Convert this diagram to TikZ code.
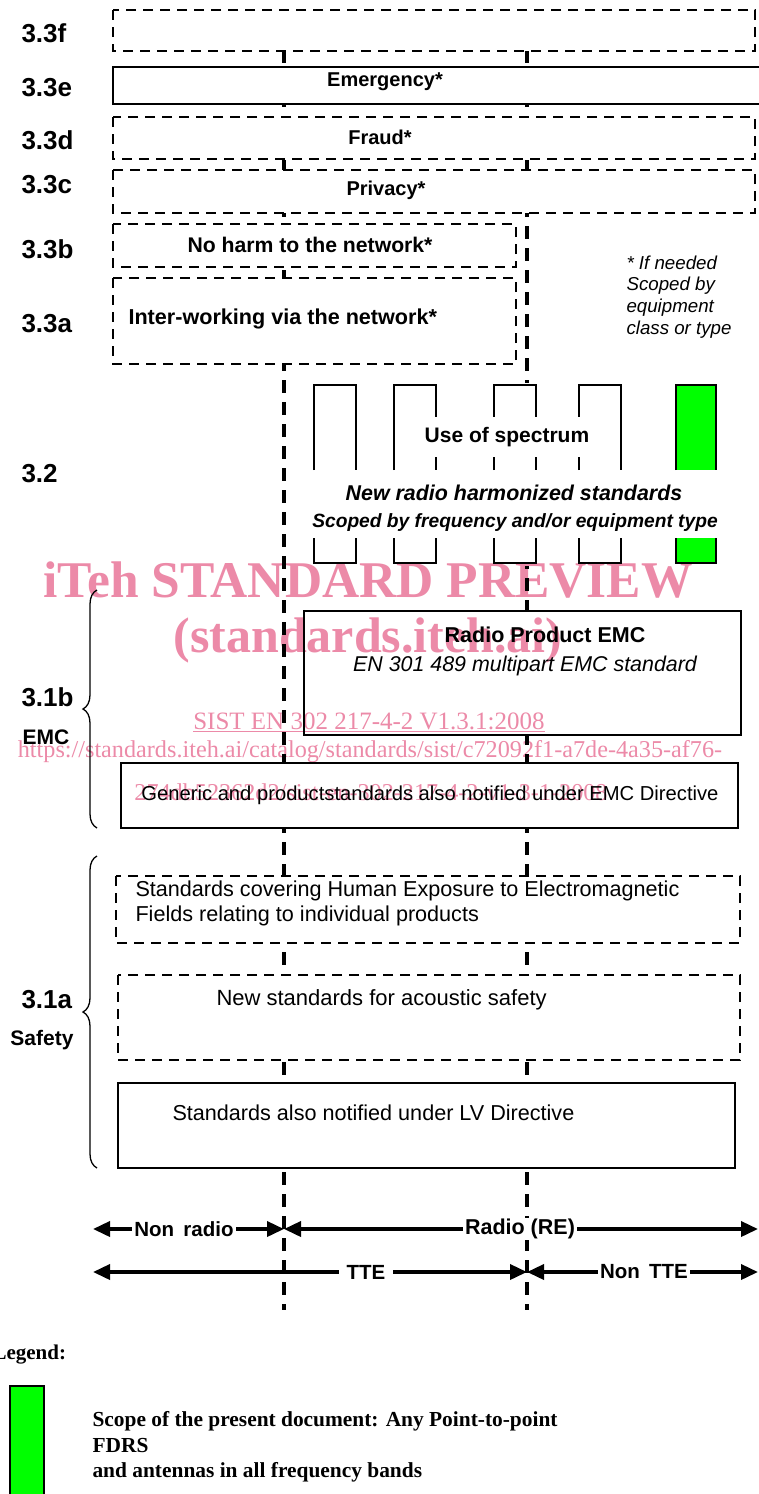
\documentclass[tikz,border=0pt]{standalone}
\usepackage{fontspec}
\setmainfont{Liberation Sans}
\newfontfamily\wmserif{Liberation Serif}
\usepackage{xcolor}
\usepackage{tikz}
\usetikzlibrary{arrows.meta,decorations.pathreplacing,positioning,calc}
\definecolor{scopegreen}{RGB}{0,255,0}
\definecolor{wmpink}{RGB}{236,138,168}

\begin{document}
\begin{tikzpicture}[x=1pt, y=-1pt,
    clause/.style={anchor=west, font=\fontsize{26}{30}\selectfont\bfseries},
    sublbl/.style={font=\fontsize{21}{24}\selectfont\bfseries},
    boxtxt/.style={font=\fontsize{20}{24}\selectfont\bfseries},
    normtxt/.style={font=\fontsize{21.6}{25}\selectfont},
    solidbox/.style={line width=2.6pt, fill=white},
    dashbox/.style={line width=2.6pt, fill=white, dash pattern=on 10pt off 7pt},
    divider/.style={line width=3.2pt, dash pattern=on 13pt off 9pt},
    band/.style={line width=2.6pt},
    extent/.style={line width=3.6pt, {Triangle[length=17pt,width=15pt]}-{Triangle[length=17pt,width=15pt]}},
    extlbl/.style={fill=white, inner xsep=2pt, inner ysep=1pt, font=\fontsize{20.5}{24}\selectfont\bfseries},
    bracegrp/.style={line width=1.3pt, decorate, decoration={brace, amplitude=14pt}},
    wmbig/.style={text=wmpink, font=\wmserif\fontsize{51.5}{56}\selectfont\bfseries},
    wmsmall/.style={text=wmpink, font=\wmserif\fontsize{24.2}{28}\selectfont}
]
    \useasboundingbox (0,0) rectangle (759,1494);

    % Dividers (non radio | radio, TTE | non TTE)
    \coordinate (radtop) at (284,50);  \coordinate (radbot) at (284,1310);
    \coordinate (ttetop) at (527,50);  \coordinate (ttebot) at (527,1310);
    \draw[divider] (radtop) -- (radbot);
    \draw[divider] (ttetop) -- (ttebot);

    % Clause 3.3 layers
    \draw[dashbox]  (113,10) rectangle (755,51);
    \draw[solidbox] (113,67) rectangle (763,104);
    \draw[dashbox]  (113,117) rectangle (755,159);
    \draw[dashbox]  (113,170) rectangle (755,213);
    \draw[dashbox]  (113,224) rectangle (516,267);
    \draw[dashbox]  (113,278) rectangle (516,364);
    \node[boxtxt] (emerg) at (385,82) {Emergency*};
    \node[boxtxt] (fraud) at (380,137) {Fraud*};
    \node[boxtxt] (privacy) at (386,190) {Privacy*};
    \node[boxtxt, font=\fontsize{21.2}{24}\selectfont\bfseries] (noharm) at (310,245) {No harm to the network*};
    \node[boxtxt, anchor=west, font=\fontsize{21.6}{24}\selectfont\bfseries] (interwork) at (125,319) {Inter-working via the network*};
    \node[anchor=west, align=left, font=\fontsize{18.7}{21.7}\selectfont\itshape] (ifneeded) at (623,297)
        {* If needed\\Scoped by\\equipment\\class or type};

    \node[clause] (c33f) at (18,33) {3.3f};
    \node[clause] (c33e) at (18,88) {3.3e};
    \node[clause] (c33d) at (18,140) {3.3d};
    \node[clause] (c33c) at (18,185) {3.3c};
    \node[clause] (c33b) at (18,249) {3.3b};
    \node[clause] (c33a) at (18,324) {3.3a};

    % Clause 3.2 (use of spectrum)
    \fill[white] (300,383) rectangle (725,566);
    \fill[scopegreen] (676,385) rectangle (716,470);
    \fill[scopegreen] (676,538) rectangle (716,563);
    \foreach \xl/\xr in {314/356, 394/436, 494/536, 579/621, 676/716} {
        \draw[band] (\xl,470) |- (\xr,385) -- (\xr,470);
        \draw[band] (\xl,538) |- (\xr,563) -- (\xr,538);
    }
    \node[fill=white, inner xsep=0pt, minimum height=40pt, font=\fontsize{21}{24}\selectfont\bfseries] (spectrum) at (507,437) {Use of spectrum};
    \node[font=\fontsize{21.4}{24}\selectfont\bfseries\itshape] (newradio) at (514,493) {New radio harmonized standards};
    \node[font=\fontsize{19.2}{22}\selectfont\bfseries\itshape] (scopedby) at (515,523) {Scoped by frequency and/or equipment type};
    \node[clause] (c32) at (18,474) {3.2};

    % Clause 3.1b (EMC)
    \draw[bracegrp] (97,828) -- (97,590);
    \draw[solidbox] (304,611) rectangle (741,735);
    \node[font=\fontsize{21.5}{24}\selectfont\bfseries] (radioemc) at (545,635) {Radio Product EMC};
    \node[font=\fontsize{21.4}{24}\selectfont\itshape] (en301) at (525,666) {EN 301 489 multipart EMC standard};
    \draw[solidbox] (121,763) rectangle (738,828);
    \node[normtxt, font=\fontsize{20.2}{24}\selectfont] (generic) at (430,795) {Generic and productstandards also notified under EMC Directive};
    \node[clause] (c31b) at (18,697) {3.1b};
    \node[sublbl, anchor=west] (emc) at (19,737) {EMC};

    % Clause 3.1a (Safety)
    \draw[bracegrp] (97,1168) -- (97,856);
    \draw[dashbox]  (116,876) rectangle (740,943);
    \node[normtxt, anchor=west, align=left] (exposure) at (132,903)
        {Standards covering Human Exposure to Electromagnetic\\Fields relating to individual products};
    \draw[dashbox]  (118,975) rectangle (740,1060);
    \node[normtxt, font=\fontsize{22}{25}\selectfont, anchor=west] (acoustic) at (213,1000) {New standards for acoustic safety};
    \draw[solidbox] (118,1083) rectangle (735,1168);
    \node[normtxt, anchor=west] (lvd) at (169,1113) {Standards also notified under LV Directive};
    \node[clause] (c31a) at (18,1000) {3.1a};
    \node[sublbl] (safety) at (42,1040) {Safety};

    % Scope arrows
    \coordinate (nrleft) at (93,1229);  \coordinate (nrdiv) at (284,1229);  \coordinate (reright) at (758,1229);
    \coordinate (tteleft) at (93,1272); \coordinate (ttediv) at (527,1272); \coordinate (ntright) at (758,1272);
    \draw[extent] (nrleft) -- (nrdiv);
    \draw[extent] (nrdiv) -- (reright);
    \draw[extent] (tteleft) -- (ttediv);
    \draw[extent] (ttediv) -- (ntright);
    \node[extlbl] (nonradio) at (184,1229) {Non\hspace{0.45em}radio};
    \node[extlbl, font=\fontsize{21.5}{24}\selectfont\bfseries] (radiore) at (520,1229) {Radio (RE)};
    \node[extlbl, inner xsep=8pt] (tte) at (366,1272) {TTE};
    \node[extlbl] (nontte) at (644,1272) {Non\hspace{0.45em}TTE};

    % Legend
    \node[anchor=west, font=\wmserif\fontsize{21}{24}\selectfont\bfseries] (legend) at (-11,1355) {Legend:};
    \filldraw[fill=scopegreen, line width=2.6pt] (10,1386) rectangle (44,1520);
    \node[anchor=west, align=left, font=\wmserif\fontsize{21.4}{25.5}\selectfont\bfseries] (scopetxt) at (89,1447)
        {Scope of the present document: Any Point-to-point\\FDRS\\and antennas in all frequency bands};

    % Watermark
    \begin{scope}[blend mode=multiply]
        \node[wmbig] (wmtitle) at (368,580) {iTeh STANDARD PREVIEW};
        \node[wmbig, font=\wmserif\fontsize{50}{56}\selectfont\bfseries] (wmsite) at (368,640) {(standards.iteh.ai)};
        \node[wmsmall, font=\wmserif\fontsize{25}{28}\selectfont] (wmsist) at (369,722) {\underline{SIST EN 302 217-4-2 V1.3.1:2008}};
        \node[wmsmall] (wmurl) at (370,752) {https://standards.iteh.ai/catalog/standards/sist/c72092f1-a7de-4a35-af76-};
        \node[wmsmall] (wmurltail) at (371,792) {274db52362d2/sist-en-302-217-4-2-v1-3-1-2008};
    \end{scope}
\end{tikzpicture}
\end{document}
